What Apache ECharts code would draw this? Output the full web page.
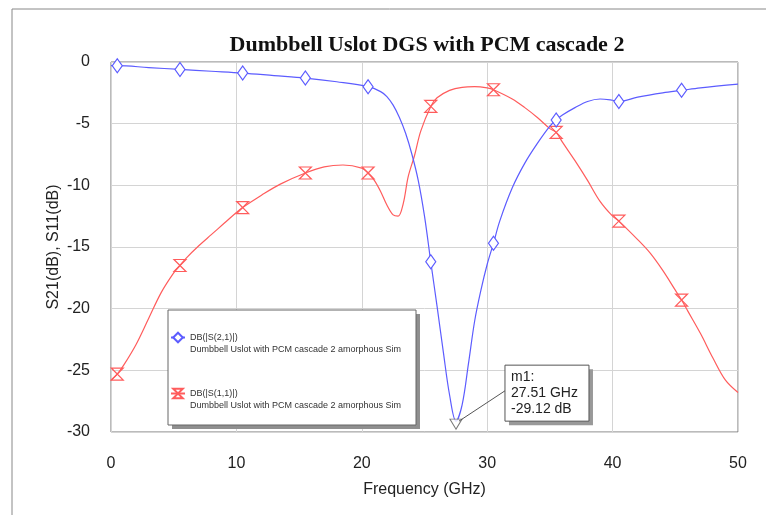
<!DOCTYPE html>
<html>
<head>
<meta charset="utf-8">
<script src="https://cdn.jsdelivr.net/npm/echarts@6/dist/echarts.min.js"></script>
<style>
html,body{margin:0;padding:0;background:#fff;}
#main{width:766px;height:515px;}
</style>
</head>
<body>
<div id="main"></div>
<script>
// ---- data ----
var chartTitle = 'Dumbbell Uslot DGS with PCM cascade 2';
var xTicks = [0, 10, 20, 30, 40, 50];
var yTicks = [0, -5, -10, -15, -20, -25, -30];

var s21Name = 'DB(|S(2,1)|)';
var s11Name = 'DB(|S(1,1)|)';
var seriesNote = 'Dumbbell Uslot with PCM cascade 2 amorphous Sim';

var s21Freq = [0, 0.5, 3, 5.5, 8, 10.5, 13, 15.5, 18, 20.5, 21.5, 22, 22.5, 23, 23.5, 24, 24.5, 25, 25.5, 26, 26.5, 27, 27.51, 28, 28.5, 29, 29.5, 30, 30.5, 31, 32, 33, 34, 35, 35.5, 36, 37, 38, 39, 40, 40.5, 42, 44, 45.5, 47, 50];
var s21Vals = [-0.3, -0.3, -0.45, -0.6, -0.75, -0.9, -1.1, -1.3, -1.6, -2.0, -2.4, -2.8, -3.5, -4.5, -5.8, -7.5, -9.6, -12.5, -16.2, -19.8, -23.5, -27.0, -29.12, -27.8, -24.5, -21.0, -18.5, -16.4, -14.7, -12.9, -10.2, -8.2, -6.6, -5.2, -4.7, -4.3, -3.7, -3.2, -3.0, -3.1, -3.2, -2.85, -2.5, -2.3, -2.1, -1.8];

var s11Freq = [0, 0.5, 1, 2, 3, 4, 5, 5.5, 6, 7, 8, 9, 10, 10.5, 12, 13.5, 15.5, 17, 18.5, 20, 20.5, 21, 21.5, 22, 22.5, 22.9, 23.3, 23.7, 24.2, 24.7, 25.5, 26, 27, 28, 29, 30, 30.5, 32, 33, 34, 35, 35.5, 36, 37, 38, 39, 40, 40.5, 42, 43, 44, 45, 45.5, 46, 47, 48, 49, 50];
var s11Vals = [-25.8, -25.3, -24.6, -22.9, -20.8, -18.7, -17.1, -16.5, -15.9, -14.9, -14.0, -13.1, -12.2, -11.8, -10.8, -9.9, -9.0, -8.5, -8.35, -8.6, -9.0, -9.6, -10.5, -11.6, -12.4, -12.5, -11.5, -9.3, -7.6, -5.6, -3.6, -2.9, -2.3, -2.05, -2.0, -2.1, -2.25, -3.0, -3.7, -4.5, -5.4, -5.7, -6.5, -8.0, -9.6, -11.3, -12.5, -12.9, -14.4, -15.5, -16.9, -18.5, -19.3, -20.2, -22.0, -24.0, -25.8, -26.8];

var markerFreqs = [0.5, 5.5, 10.5, 15.5, 20.5, 25.5, 30.5, 35.5, 40.5, 45.5];

var m1Freq = 27.51;
var m1Val = -29.12;
var m1Lines = ['m1:', '27.51 GHz', '-29.12 dB'];

// ---- build ----
function build(freq, vals) {
  return freq.map(function (f, i) {
    var isMark = markerFreqs.indexOf(f) >= 0;
    return isMark ? { value: [f, vals[i]] } : { value: [f, vals[i]], symbol: 'none' };
  });
}
var hourglass = 'path://M0,0 L10,0 L0,12 L10,12 Z';
var blue = '#5c5cff';
var red = '#ff5c5c';

var chart = echarts.init(document.getElementById('main'));
var option = {
  backgroundColor: '#fff',
  animation: false,
  title: {
    text: chartTitle,
    left: 422, top: 29, textAlign: 'center',
    textStyle: { fontFamily: 'Liberation Serif', fontWeight: 'bold', fontSize: 22, color: '#111' }
  },
  grid: { left: 111, top: 62, right: 28, bottom: 83, show: true, borderColor: '#777', borderWidth: 1, backgroundColor: '#fff' },
  legend: {
    left: 168, top: 310,
    orient: 'vertical',
    padding: [11, 16, 9, 2],
    itemGap: 23,
    itemWidth: 14, itemHeight: 12,
    z: 8,
    data: [s21Name, s11Name],
    formatter: function (n) { return '{s| }\n{a|' + n + '}\n{b|' + seriesNote + '}'; },
    textStyle: {
      rich: {
        s: { fontSize: 9, lineHeight: 12, fontFamily: 'Liberation Sans' },
        a: { fontSize: 9, lineHeight: 12, color: '#333', fontFamily: 'Liberation Sans' },
        b: { fontSize: 9, lineHeight: 12, color: '#333', fontFamily: 'Liberation Sans' }
      }
    }
  },
  xAxis: {
    type: 'value', min: 0, max: 50, interval: 10,
    name: 'Frequency (GHz)', nameLocation: 'middle', nameGap: 50, nameMoveOverlap: false,
    nameTextStyle: { fontSize: 16, color: '#222', fontFamily: 'Liberation Sans' },
    axisLine: { show: false }, axisTick: { show: false },
    axisLabel: { fontSize: 16, color: '#222', margin: 24, fontFamily: 'Liberation Sans',
      formatter: function (v) { return xTicks.indexOf(v) >= 0 ? String(v) : ''; } },
    splitLine: { show: true, lineStyle: { color: '#d4d4d4', width: 1 } }
  },
  yAxis: {
    type: 'value', min: -30, max: 0, interval: 5,
    name: 'S21(dB), S11(dB)', nameLocation: 'middle', nameGap: 49, nameRotate: 90, nameMoveOverlap: false,
    nameTextStyle: { fontSize: 16, color: '#222', fontFamily: 'Liberation Sans' },
    axisLine: { show: false }, axisTick: { show: false },
    axisLabel: { fontSize: 16, color: '#222', margin: 21, fontFamily: 'Liberation Sans',
      formatter: function (v) { return yTicks.indexOf(v) >= 0 ? String(v) : ''; } },
    splitLine: { show: true, lineStyle: { color: '#d4d4d4', width: 1 } }
  },
  series: [
    {
      name: s21Name, type: 'line', smooth: 0.35,
      data: build(s21Freq, s21Vals),
      symbol: 'diamond', symbolSize: [10, 14], showAllSymbol: true,
      lineStyle: { color: blue, width: 1.2 },
      itemStyle: { color: '#fff', borderColor: blue, borderWidth: 1.2 },
      z: 3
    },
    {
      name: s11Name, type: 'line', smooth: 0.35,
      data: build(s11Freq, s11Vals),
      symbol: hourglass, symbolSize: [12, 12], showAllSymbol: true,
      lineStyle: { color: red, width: 1.2 },
      itemStyle: { color: 'rgba(255,255,255,0)', borderColor: red, borderWidth: 1.2 },
      z: 2
    },
    {
      name: 'm1', type: 'scatter',
      data: [[m1Freq, m1Val]],
      symbol: 'triangle', symbolRotate: 180, symbolSize: [12, 10], symbolOffset: [0, 3],
      itemStyle: { color: '#fff', borderColor: '#555', borderWidth: 1 },
      z: 4
    }
  ]
};
chart.setOption(option);

var p = chart.convertToPixel({ gridIndex: 0 }, [m1Freq, m1Val]);
var bx = p[0] + 49, by = p[1] - 56;
chart.setOption({
  graphic: [
    { type: 'rect', shape: { x: 172, y: 314, width: 248, height: 115 }, style: { fill: '#8f8f8f' }, z: 6 },
    { type: 'rect', shape: { x: 168, y: 310, width: 248, height: 115 }, style: { fill: '#fff', stroke: '#666', lineWidth: 1 }, z: 7 },
    { type: 'line', shape: { x1: p[0] + 3, y1: p[1], x2: bx + 1, y2: by + 25 }, style: { stroke: '#555', lineWidth: 1 }, z: 10 },
    { type: 'rect', shape: { x: bx + 4, y: by + 4, width: 84, height: 56 }, style: { fill: '#999' }, z: 10 },
    { type: 'rect', shape: { x: bx, y: by, width: 84, height: 56 }, style: { fill: '#fff', stroke: '#555', lineWidth: 1 }, z: 11 },
    { type: 'text', x: bx + 6, y: by + 4, style: { text: m1Lines.join('\n'), fontSize: 14, lineHeight: 16, fill: '#222', fontFamily: 'Liberation Sans' }, z: 12 },
    { type: 'rect', shape: { x: 12, y: 9, width: 800, height: 600 }, style: { fill: 'none', stroke: '#888', lineWidth: 1 }, z: 0, silent: true }
  ]
});
</script>
</body>
</html>
